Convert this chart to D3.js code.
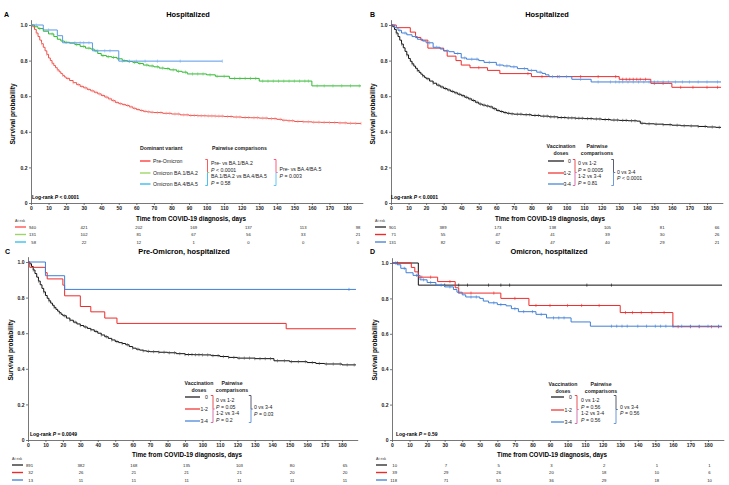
<!DOCTYPE html>
<html><head><meta charset="utf-8">
<script src="https://cdn.jsdelivr.net/npm/d3@7"></script>
<style>html,body{margin:0;padding:0;background:#fff;}svg{display:block;}</style>
</head><body>
<svg id="chart" width="729" height="485"></svg>
<script>
// ---------------- DATA ----------------
const xTicks = d3.range(0, 181, 10);
const yTicks = [0, 0.2, 0.4, 0.6, 0.8, 1.0];
const atRiskCols = 7;

// Panel A – dominant variant
const aPreT = [0,1,2,3,4,5,6,7,8,9,10,11,12,13,14,15,16,17,18,19,20,22,24,26,28,30,32,34,36,38,40,42,44,46,48,50,52,54,56,58,60,62,64,66,68,70,75,80,85,90,95,100,105,110,115,120,125,130,135,140,143,146,150,155,160,165,170,175,180,185];
const aPreS = [1.0,0.99,0.975,0.955,0.935,0.915,0.895,0.875,0.855,0.835,0.815,0.80,0.785,0.772,0.76,0.748,0.737,0.727,0.717,0.708,0.70,0.688,0.676,0.665,0.655,0.647,0.638,0.63,0.622,0.613,0.604,0.595,0.585,0.575,0.565,0.558,0.553,0.548,0.54,0.532,0.525,0.52,0.515,0.512,0.51,0.508,0.504,0.50,0.495,0.492,0.49,0.489,0.488,0.486,0.483,0.48,0.479,0.477,0.474,0.47,0.465,0.462,0.458,0.456,0.454,0.453,0.452,0.45,0.448,0.447];
const aPreC = [3,6,9,12,15,18,21,24,27,29,31,33,35,37,39,41,43,45,47,49,51,53,55,57,59,61,63,65,67,69,72,74,77,79,82,84,87,89,91,93,95,97,99,101,103,105,107,109,112,114,117,119,122,124,127,129,132,134,137,139,142,144,147,149,152,155,158,161,164,167,170,173,176,179,182,185,188];
const aBa12T = [0,2,4,7,10,13,15,17,19,22,25,28,31,34,36,38,40,43,46,49,52,55,58,61,64,67,70,73,76,79,83,86,89,100,105,113,130,160];
const aBa12S = [1.0,0.99,0.98,0.965,0.95,0.935,0.92,0.91,0.903,0.898,0.89,0.88,0.87,0.865,0.855,0.84,0.828,0.822,0.818,0.81,0.80,0.795,0.79,0.784,0.775,0.77,0.765,0.758,0.755,0.748,0.74,0.735,0.725,0.72,0.712,0.70,0.685,0.658];
const aBa12C = [5,12,20,26,30,33,37,41,44,47,50,53,56,59,62,66,69,72,75,78,81,84,88,92,95,98,102,106,110,116,119,122,125,128,132,135,138,141,144,147,150,153,156,158,163,167,172,177,182,187];
const aBa45T = [0,7,15,18,35,50];
const aBa45S = [1.0,0.972,0.94,0.90,0.855,0.797];
const aBa45C = [3,10,25,28,30,33,38,42,45,52,56,60,65,72,85,109];

// Panel B – vaccination doses, hospitalized
const bD0T = [0,1,2,3,4,5,6,7,8,9,10,11,12,13,14,15,16,17,18,19,20,22,24,26,28,30,32,34,36,38,40,42,44,46,48,50,52,54,56,58,60,62,64,66,68,70,75,80,85,90,95,100,105,110,115,120,125,130,135,140,142,145,150,155,160,165,170,175,180,185];
const bD0S = [1.0,0.99,0.975,0.955,0.935,0.915,0.893,0.872,0.852,0.832,0.812,0.796,0.782,0.769,0.757,0.745,0.734,0.724,0.715,0.706,0.698,0.685,0.673,0.662,0.652,0.643,0.635,0.627,0.619,0.611,0.603,0.594,0.585,0.576,0.566,0.556,0.55,0.545,0.54,0.53,0.52,0.514,0.508,0.504,0.501,0.499,0.496,0.492,0.488,0.484,0.48,0.478,0.476,0.474,0.472,0.469,0.466,0.464,0.462,0.46,0.448,0.445,0.443,0.44,0.437,0.434,0.433,0.43,0.427,0.425];
const bD0C = [3,6,9,12,15,18,21,24,27,29,31,33,35,37,39,41,43,45,47,49,51,53,55,57,59,61,63,65,67,69,72,74,77,79,82,84,87,89,91,93,95,97,99,101,103,105,107,109,112,114,117,119,122,124,127,129,132,134,137,139,143,147,151,155,159,163,167,171,175,179,183,187];
const bD12T = [0,3,11,14,17,21,30,32,37,40,45,55,62,80,130,148,160];
const bD12S = [1.0,0.985,0.96,0.93,0.915,0.87,0.855,0.825,0.80,0.775,0.76,0.745,0.727,0.71,0.695,0.672,0.65];
const bD12C = [50,78,86,95,108,118,128,132,134,136,138,140,142,145,150,155,165,172,180,186];
const bD34T = [0,2,4,6,9,12,15,18,20,24,28,30,33,36,40,43,50,53,60,64,68,72,78,83,86,88,90,103,114];
const bD34S = [1.0,0.985,0.97,0.955,0.945,0.935,0.92,0.91,0.90,0.875,0.865,0.855,0.85,0.84,0.815,0.808,0.80,0.79,0.775,0.77,0.765,0.755,0.745,0.735,0.728,0.72,0.71,0.695,0.68];
const bD34C = [5,8,14,22,26,32,38,42,46,49,56,62,66,70,76,80,85,92,96,100,108,118,125,128,130,132,135,138,141,144,147,150,152,155,158,162,166,170,175,180,186];

// Panel C – pre-Omicron, hospitalized
const cD0T = [0,1,2,3,4,5,6,7,8,9,10,11,12,13,14,15,16,17,18,19,20,22,24,26,28,30,32,34,36,38,40,42,44,46,48,50,52,54,56,58,60,62,64,66,68,70,75,80,85,90,95,100,105,110,115,120,130,141,150,160,165,170,180];
const cD0S = [1.0,0.99,0.975,0.955,0.935,0.915,0.893,0.872,0.852,0.832,0.812,0.796,0.782,0.769,0.757,0.745,0.734,0.724,0.715,0.706,0.698,0.685,0.673,0.662,0.652,0.643,0.635,0.627,0.619,0.61,0.60,0.59,0.58,0.571,0.562,0.553,0.547,0.542,0.535,0.525,0.516,0.51,0.505,0.501,0.498,0.496,0.493,0.49,0.485,0.48,0.479,0.478,0.474,0.469,0.464,0.46,0.457,0.445,0.44,0.435,0.43,0.427,0.422];
const cD0C = [3,6,9,12,15,18,21,24,27,30,33,36,39,42,45,48,51,54,57,60,63,66,69,72,75,78,81,84,87,90,92,94,96,98,100,103,106,109,112,115,118,121,124,127,130,133,136,139,143,147,151,155,159,163,167,171,175,179,183,187];
const cD12T = [0,1,10,11,20,21,30,36,44,51,148];
const cD12S = [1.0,0.97,0.94,0.905,0.87,0.81,0.75,0.72,0.685,0.655,0.625];
const cD12C = [];
const cD34T = [0,10,21];
const cD34S = [1.0,0.923,0.846];
const cD34C = [184];

// Panel D – Omicron, hospitalized
const dD0T = [0,15];
const dD0S = [1.0,0.875];
const dD0C = [3,30,38,43,55,62,67,111,125];
const dD12T = [0,11,13,15,26,36,38,62,78,130,160];
const dD12S = [1.0,0.975,0.95,0.92,0.895,0.86,0.83,0.80,0.76,0.72,0.64];
const dD12C = [17,22,33,45,58,70,82,90,100,108,118,133,137,142,148,155,163,170,175,182,186];
const dD34T = [0,3,5,8,12,16,20,25,30,35,37,40,42,50,52,55,60,65,68,72,82,88,102,113];
const dD34S = [1.0,0.99,0.97,0.945,0.93,0.905,0.89,0.875,0.865,0.85,0.835,0.82,0.808,0.80,0.785,0.775,0.765,0.758,0.742,0.725,0.71,0.69,0.667,0.643];
const dD34C = [2,7,14,18,22,28,33,38,45,48,58,62,70,75,80,85,92,95,98,125,128,131,134,140,145,150,153,156,160,165,170,175,180,186];

// At-risk tables
const aRisk = [[940,421,202,169,137,113,98],[131,102,81,67,56,33,21],[58,22,12,1,0,0,0]];
const bRisk = [[901,389,173,138,105,81,66],[71,55,47,41,39,30,26],[131,82,62,47,40,29,21]];
const cRisk = [[891,382,168,135,103,80,65],[32,26,21,21,21,20,20],[13,11,11,11,11,11,11]];
const dRisk = [[10,7,5,3,2,1,1],[39,29,26,20,18,10,6],[118,71,51,36,29,18,10]];

const variantLabels = ["Pre-Omicron","Omicron BA.1/BA.2","Omicron BA.4/BA.5"];
const doseLabels = ["0","1-2","3-4"];
const titles = ["Hospitalized","Hospitalized","Pre-Omicron, hospitalized","Omicron, hospitalized"];
const panelLetters = ["A","B","C","D"];
const logRank = [["<","0.0001"],["<","0.0001"],["=","0.0049"],["=","0.59"]];
const aPairs = [["Pre- vs BA.1/BA.2","<","0.0001"],["BA.1/BA.2 vs BA.4/BA.5","=","0.58"],["Pre- vs BA.4/BA.5","=","0.003"]];
const bPairs = [["0 vs 1-2","=","0.0005"],["1-2 vs 3-4","=","0.81"],["0 vs 3-4","<","0.0001"]];
const cPairs = [["0 vs 1-2","=","0.05"],["1-2 vs 3-4","=","0.2"],["0 vs 3-4","=","0.03"]];
const dPairs = [["0 vs 1-2","=","0.56"],["1-2 vs 3-4","=","0.56"],["0 vs 3-4","=","0.56"]];

// ---------------- DRAWING ----------------
const FONT = "'Liberation Sans', Arial, Helvetica, sans-serif";
const svg = d3.select("#chart").style("font-family", FONT);
const XMAX = 189;

function survAt(t, s, c) { let v = s[0]; for (let i = 0; i < t.length; i++) if (t[i] <= c) v = s[i]; return v; }

function panel(cfg) {
  const g = svg.append("g");
  const x = d3.scaleLinear().domain([0, XMAX]).range([cfg.left, cfg.left + (cfg.px180 - cfg.left) * XMAX / 180]);
  const y = d3.scaleLinear().domain([0, 1.03]).range([cfg.y0, cfg.y0 - (cfg.y0 - cfg.y1) * 1.03]);

  // axes
  const xa = g.append("g").attr("transform", `translate(0,${cfg.y0})`)
    .call(d3.axisBottom(x).tickValues(xTicks).tickSize(2).tickSizeOuter(0).tickPadding(1.5));
  const ya = g.append("g").attr("transform", `translate(${cfg.left},0)`)
    .call(d3.axisLeft(y).tickValues(yTicks).tickSize(2).tickSizeOuter(0).tickPadding(1.5)
      .tickFormat(d => d === 0 ? "0" : d.toFixed(1)));
  [xa, ya].forEach(a => {
    a.selectAll("path,line").attr("stroke", "#555").attr("stroke-width", 0.8);
    a.selectAll("text").attr("font-family", FONT).attr("font-size", 5).attr("font-weight", "bold").attr("fill", "#222");
  });

  // curves
  const line = d3.line().x(d => x(d[0])).y(d => y(d[1])).curve(d3.curveStepAfter);
  cfg.curves.forEach(c => {
    const pts = c.t.map((d, i) => [d, c.s[i]]);
    pts.push([c.end, c.s[c.s.length - 1]]);
    g.append("path").attr("d", line(pts)).attr("fill", "none").attr("stroke", c.color).attr("stroke-width", 1.0);
    g.selectAll(null).data(c.c).enter().append("line")
      .attr("x1", d => x(d)).attr("x2", d => x(d))
      .attr("y1", d => y(survAt(c.t, c.s, d)) - 1.6).attr("y2", d => y(survAt(c.t, c.s, d)) + 1.6)
      .attr("stroke", c.censor || c.color).attr("stroke-width", 0.6);
  });

  // texts
  g.append("text").attr("x", cfg.letterX).attr("y", cfg.letterY).text(cfg.letter)
    .attr("font-size", 7).attr("font-weight", "bold");
  g.append("text").attr("x", cfg.titleX).attr("y", cfg.titleY).attr("text-anchor", "middle").text(cfg.title)
    .attr("font-size", 7.4).attr("font-weight", "bold");
  g.append("text").attr("transform", `translate(${cfg.ylabX},${cfg.ylabY}) rotate(-90)`).attr("text-anchor", "middle")
    .text("Survival probability").attr("font-size", 6.6).attr("font-weight", "bold");
  g.append("text").attr("x", cfg.xlabX).attr("y", cfg.xlabY).attr("text-anchor", "middle")
    .text("Time from COVID-19 diagnosis, days").attr("font-size", 6.3).attr("font-weight", "bold");
  const lr = g.append("text").attr("x", cfg.lrX).attr("y", cfg.lrY).attr("font-size", 5).attr("font-weight", "bold");
  lr.append("tspan").text("Log-rank ");
  lr.append("tspan").attr("font-style", "italic").text("P");
  lr.append("tspan").text(` ${cfg.lr[0]} ${cfg.lr[1]}`);

  // at risk
  g.append("text").attr("x", cfg.left - 16).attr("y", cfg.riskY[0] - 5).text("At risk").attr("font-size", 3.6).attr("fill", "#333");
  cfg.risk.forEach((row, r) => {
    const ry = cfg.riskY[r];
    g.append("line").attr("x1", cfg.left - 16).attr("x2", cfg.left - 5).attr("y1", ry).attr("y2", ry)
      .attr("stroke", cfg.riskColors[r]).attr("stroke-width", 1.4);
    row.forEach((v, i) => {
      const cx = i === 0 ? cfg.left + 5 : cfg.left + cfg.colStart + (i - 1) * cfg.colStep;
      g.append("text").attr("x", cx).attr("y", ry + 1.5).attr("text-anchor", i === 0 ? "end" : "middle")
        .text(v).attr("font-size", 4.2).attr("fill", "#222");
    });
  });
  return g;
}

function pText(g, x, y, parts) {
  // parts: [label, op, value] -> two lines handled by caller
  const t = g.append("text").attr("x", x).attr("y", y).attr("font-size", 5.2).attr("fill", "#222");
  t.append("tspan").attr("font-style", "italic").text("P");
  t.append("tspan").text(` ${parts[1]} ${parts[2]}`);
}

function bracket(g, bx, y1, y2, topColor, botColor, midColor) {
  const ym = (y1 + y2) / 2;
  g.append("path").attr("d", `M${bx - 2.2},${y1}H${bx}V${ym}`).attr("fill", "none").attr("stroke", topColor).attr("stroke-width", 0.8);
  g.append("path").attr("d", `M${bx},${ym}V${y2}H${bx - 2.2}`).attr("fill", "none").attr("stroke", botColor).attr("stroke-width", 0.8);
  g.append("line").attr("x1", bx).attr("x2", bx + 1.8).attr("y1", ym).attr("y2", ym).attr("stroke", midColor).attr("stroke-width", 0.8);
}

function legendVax(g, L, pairs, colors) {
  const hs = {"font-size": 5.2, "font-weight": "bold"};
  [["Vaccination", L.hx, L.hy], ["doses", L.hx, L.hy + 7], ["Pairwise", L.px, L.hy], ["comparisons", L.px, L.hy + 7]]
    .forEach(([s, xx, yy]) => g.append("text").attr("x", xx).attr("y", yy).attr("text-anchor", "middle").text(s)
      .attr("font-size", hs["font-size"]).attr("font-weight", "bold").attr("fill", "#222"));
  doseLabels.forEach((s, i) => {
    const ry = L.rows[i];
    g.append("line").attr("x1", L.lx1).attr("x2", L.lx2).attr("y1", ry).attr("y2", ry).attr("stroke", colors[i]).attr("stroke-width", 1.2);
    g.append("text").attr("x", L.labX).attr("y", ry + 2).attr("text-anchor", "end").text(s).attr("font-size", 5.2).attr("fill", "#222");
  });
  bracket(g, L.b1x, L.rows[0] - 1.5, L.rows[2] + 1.5, "#e0262a", "#c8509a", "#e05a9a");
  bracket(g, L.b2x, L.rows[0] - 1.5, L.rows[2] + 1.5, "#2f3550", "#4a7fd0", "#3a5f9a");
  g.append("text").attr("x", L.t1x).attr("y", L.t1y[0]).text(pairs[0][0]).attr("font-size", 5.2).attr("fill", "#222");
  pText(g, L.t1x, L.t1y[1], pairs[0]);
  g.append("text").attr("x", L.t1x).attr("y", L.t1y[2]).text(pairs[1][0]).attr("font-size", 5.2).attr("fill", "#222");
  pText(g, L.t1x, L.t1y[3], pairs[1]);
  g.append("text").attr("x", L.t2x).attr("y", L.t2y[0]).text(pairs[2][0]).attr("font-size", 5.2).attr("fill", "#222");
  pText(g, L.t2x, L.t2y[1], pairs[2]);
}

const BLACK = "#111111", RED = "#ee2b2b", BLUE = "#3f7fd8";
const vaxRisk = ["#333333", "#ee2b2b", "#4f86d8"];

// Panel A
const gA = panel({
  left: 31, px180: 347, y1: 25, y0: 203,
  letter: panelLetters[0], letterX: 4, letterY: 17, title: titles[0], titleX: 188, titleY: 17,
  ylabX: 15, ylabY: 114, xlabX: 191, xlabY: 221, lrX: 32, lrY: 199, lr: logRank[0],
  riskY: [227, 234.5, 242], risk: aRisk, riskColors: ["#ff5555", "#9ed36a", "#3cc0f0"], colStart: 53, colStep: 54.8,
  curves: [
    {t: aPreT, s: aPreS, c: aPreC, end: 188, color: "#f0504a", censor: "#f59a96"},
    {t: aBa12T, s: aBa12S, c: aBa12C, end: 188, color: "#2eb82e", censor: "#5cc85c"},
    {t: aBa45T, s: aBa45S, c: aBa45C, end: 109, color: "#5a9ae6", censor: "#7aaef0"}
  ]
});
// legend A
(function () {
  const g = gA;
  g.append("text").attr("x", 140).attr("y", 150).text("Dominant variant").attr("font-size", 5.2).attr("font-weight", "bold").attr("fill", "#222");
  g.append("text").attr("x", 212).attr("y", 150).text("Pairwise comparisons").attr("font-size", 5.2).attr("font-weight", "bold").attr("fill", "#222");
  const cols = ["#ff2020", "#8cd150", "#1cb0f0"];
  const rows = [161, 173, 184];
  variantLabels.forEach((s, i) => {
    g.append("line").attr("x1", 140).attr("x2", 150.5).attr("y1", rows[i]).attr("y2", rows[i]).attr("stroke", cols[i]).attr("stroke-width", 1.2);
    g.append("text").attr("x", 153).attr("y", rows[i] + 2).text(s).attr("font-size", 5.2).attr("fill", "#222");
  });
  bracket(g, 207.5, 159.5, 185.5, "#ff3030", "#1cb0f0", "#8cd150");
  bracket(g, 276, 159.5, 185.5, "#ff3060", "#40b8f0", "#d070b0");
  g.append("text").attr("x", 211).attr("y", 165).text(aPairs[0][0]).attr("font-size", 5.2).attr("fill", "#222");
  pText(g, 211, 171.5, aPairs[0]);
  g.append("text").attr("x", 211).attr("y", 178).text(aPairs[1][0]).attr("font-size", 5.2).attr("fill", "#222");
  pText(g, 211, 184.5, aPairs[1]);
  g.append("text").attr("x", 279.5).attr("y", 171).text(aPairs[2][0]).attr("font-size", 5.2).attr("fill", "#222");
  pText(g, 279.5, 177.5, aPairs[2]);
})();

// Panel B
const gB = panel({
  left: 391, px180: 707, y1: 25, y0: 203,
  letter: panelLetters[1], letterX: 370, letterY: 17, title: titles[1], titleX: 547, titleY: 17,
  ylabX: 375, ylabY: 114, xlabX: 550, xlabY: 221, lrX: 391, lrY: 199, lr: logRank[1],
  riskY: [227, 234.5, 242], risk: bRisk, riskColors: vaxRisk, colStart: 52, colStep: 54.8,
  curves: [
    {t: bD0T, s: bD0S, c: bD0C, end: 188, color: BLACK, censor: "#555"},
    {t: bD12T, s: bD12S, c: bD12C, end: 188, color: RED},
    {t: bD34T, s: bD34S, c: bD34C, end: 188, color: BLUE, censor: "#6a9be0"}
  ]
});
legendVax(gB, {hx: 561, px: 597, hy: 148, rows: [161, 173, 184], lx1: 548, lx2: 564, labX: 571,
  b1x: 575, b2x: 613.5, t1x: 578, t1y: [165, 171.5, 178, 184.5], t2x: 617, t2y: [173.5, 180]}, bPairs, [BLACK, RED, BLUE]);

// Panel C
const gC = panel({
  left: 28, px180: 342, y1: 262, y0: 440,
  letter: panelLetters[2], letterX: 5, letterY: 254, title: titles[2], titleX: 184, titleY: 254,
  ylabX: 13, ylabY: 350, xlabX: 187, xlabY: 457, lrX: 30, lrY: 436, lr: logRank[2],
  riskY: [465, 472.5, 480], risk: cRisk, riskColors: vaxRisk, colStart: 53, colStep: 52.8,
  curves: [
    {t: cD0T, s: cD0S, c: cD0C, end: 188, color: BLACK, censor: "#555"},
    {t: cD12T, s: cD12S, c: cD12C, end: 188, color: RED},
    {t: cD34T, s: cD34S, c: cD34C, end: 188, color: BLUE}
  ]
});
legendVax(gC, {hx: 199, px: 232, hy: 385, rows: [397, 409, 421], lx1: 185, lx2: 200, labX: 208,
  b1x: 213, b2x: 251, t1x: 216, t1y: [402, 408.5, 415, 421.5], t2x: 254, t2y: [409, 415.5]}, cPairs, [BLACK, RED, BLUE]);

// Panel D
const gD = panel({
  left: 392, px180: 708, y1: 263, y0: 440,
  letter: panelLetters[3], letterX: 370, letterY: 254, title: titles[3], titleX: 549, titleY: 254,
  ylabX: 377, ylabY: 350, xlabX: 552, xlabY: 457, lrX: 396, lrY: 436, lr: logRank[3],
  riskY: [465, 472.5, 480], risk: dRisk, riskColors: vaxRisk, colStart: 54, colStep: 52.7,
  curves: [
    {t: dD0T, s: dD0S, c: dD0C, end: 188, color: BLACK},
    {t: dD12T, s: dD12S, c: dD12C, end: 188, color: RED},
    {t: dD34T, s: dD34S, c: dD34C, end: 188, color: BLUE}
  ]
});
legendVax(gD, {hx: 563, px: 601, hy: 386, rows: [397, 410, 422], lx1: 551, lx2: 564, labX: 572,
  b1x: 577, b2x: 616, t1x: 581, t1y: [402, 408.5, 415, 421.5], t2x: 620, t2y: [408.5, 415]}, dPairs, [BLACK, RED, BLUE]);
</script>
</body></html>
